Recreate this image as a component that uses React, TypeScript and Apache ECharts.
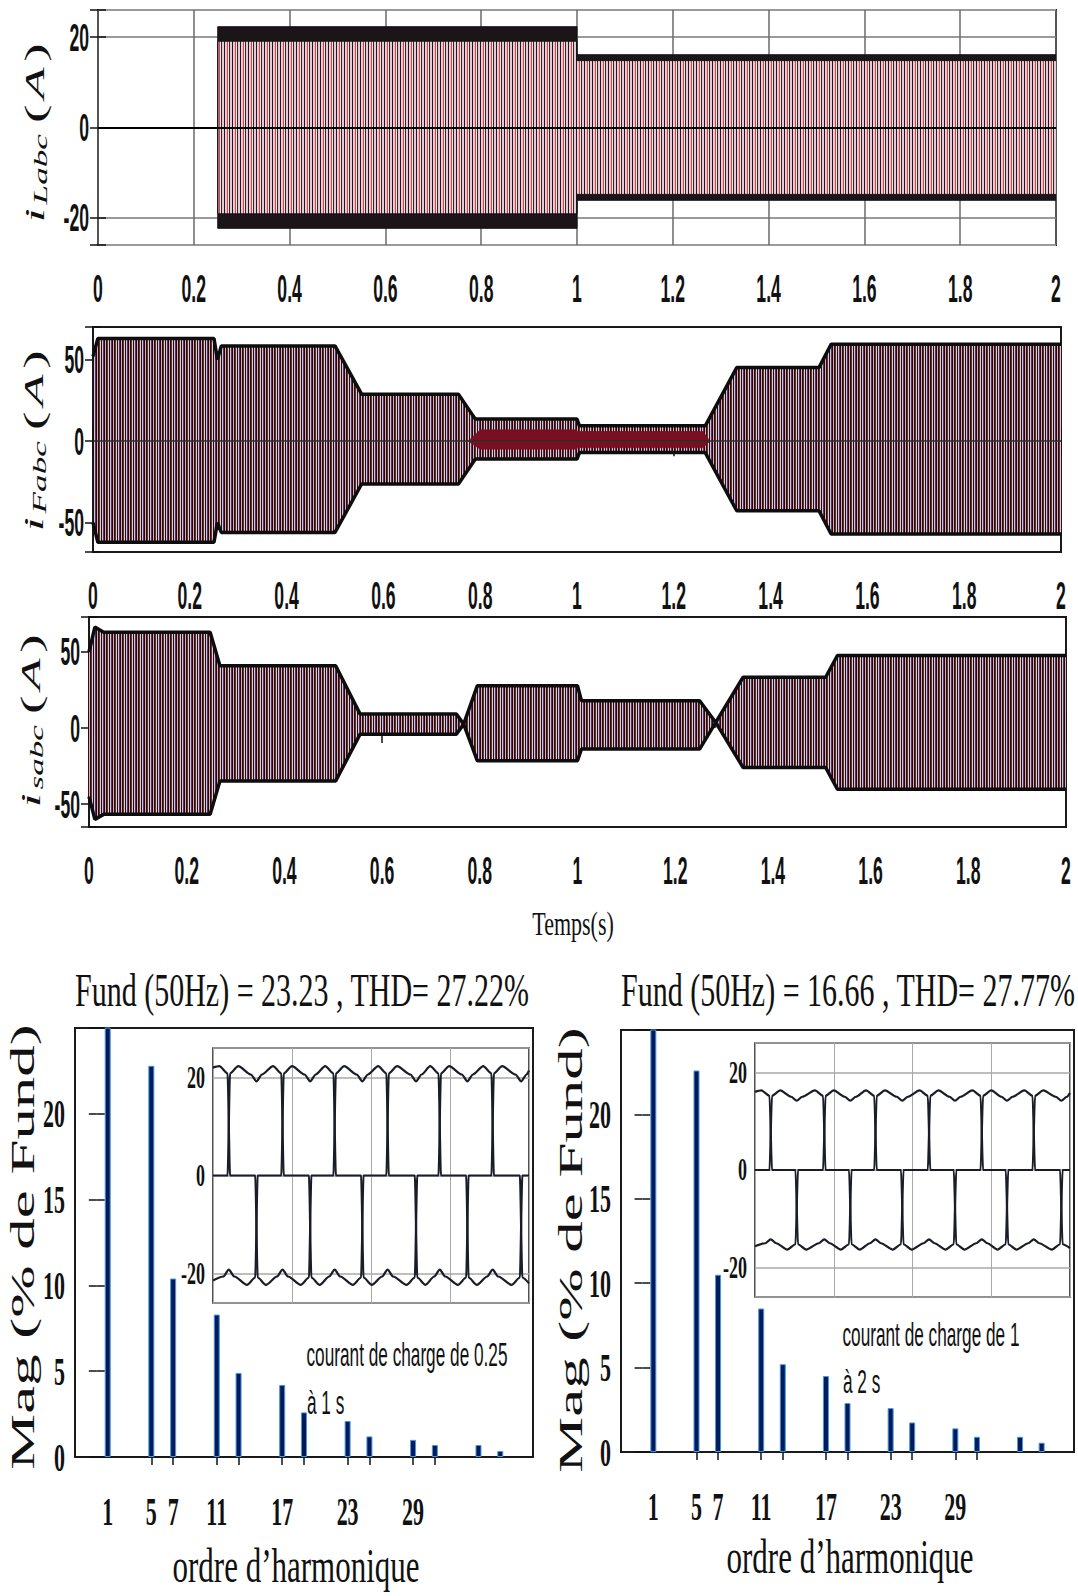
import React, { useEffect, useRef } from 'react';
import * as echarts from 'echarts';

// ---------- Panel 1 : load current i_Labc (envelope) ----------
const iLTime = [0, 0.25, 0.25, 1.0, 1.0, 2.0];
const iLPeak = [0, 0, 22.3, 22.3, 16.1, 16.1];
const iLInner = [0, 0, 19.1, 19.1, 14.8, 14.8];

// ---------- Panel 2 : filter current i_Fabc ----------
const iFTime = [0, 0.01, 0.25, 0.257, 0.265, 0.5, 0.555, 0.755, 0.79, 1.0, 1.005, 1.265, 1.33, 1.5, 1.525, 2.0];
const iFUpper = [52, 62.9, 62.9, 50, 58.4, 58.4, 28.8, 28.8, 13.5, 13.5, 9.4, 9.4, 45.1, 45.1, 59.4, 59.4];
const iFLower = [-50, -62, -62, -50, -56, -56, -26.3, -26.3, -11, -11, -7, -7, -42.7, -42.7, -57, -57];
const iFCoreTime = [0.775, 0.8, 1.0, 1.0, 1.26, 1.275];
const iFCoreUpper = [0, 7, 7, 6, 6, 0];
const iFCoreLower = [0, -5, -5, -4, -4, 0];

// ---------- Panel 3 : source current i_sabc ----------
const isTime = [0, 0.012, 0.03, 0.248, 0.268, 0.505, 0.555, 0.752, 0.767, 0.795, 1.0, 1.008, 1.25, 1.283, 1.339, 1.508, 1.532, 2.0];
const isUpper = [50, 66.4, 63, 63, 41, 41, 9.2, 9.2, 2.6, 27.9, 27.9, 18, 18, 3.7, 33.4, 33.4, 47.7, 47.7];
const isLower = [-45, -60, -56.7, -56.7, -34.7, -34.7, -4, -4, 2.6, -21.5, -21.5, -13.8, -13.8, 3.7, -25.9, -25.9, -40.2, -40.2];

const panelRanges = [[-26, 26], [-68, 70], [-65, 73]];
const panelYTickLabels = [[-20, 0, 20], [-50, 0, 50], [-50, 0, 50]];
const timeTickLabels = [0, 0.2, 0.4, 0.6, 0.8, 1, 1.2, 1.4, 1.6, 1.8, 2];

// ---------- Harmonic spectra ----------
const harmonicOrders = [1, 5, 7, 11, 13, 17, 19, 23, 25, 29, 31, 35, 37];
const magLeft = [100, 22.8, 10.4, 8.3, 4.9, 4.2, 2.6, 2.1, 1.2, 1.0, 0.7, 0.7, 0.35];
const magRight = [100, 22.6, 10.5, 8.5, 5.2, 4.5, 2.9, 2.6, 1.75, 1.4, 0.9, 0.9, 0.55];
const harmonicLabels = [1, 5, 7, 11, 17, 23, 29];
const harmonicTicks = [5, 7, 11, 13, 17, 19, 23, 25, 29, 31];
const magTickLabels = [0, 5, 10, 15, 20];
const insetTickLabels = [-20, 0, 20];

// ---------- Insets : three load-current phases over 40 ms ----------
const insetLA = [[0,0],[1.85,0],[2.15,20.8],[3.2,22.3],[4.8,20.6],[5.5,19.2],[6.2,20.6],[7.6,22.3],[8.65,20.8],[8.95,0],
  [12.15,0],[12.45,-20.8],[13.5,-22.3],[14.7,-20.6],[15.4,-19.2],[16.1,-20.6],[17.7,-22.3],[18.75,-20.8],[19.05,0],
  [21.95,0],[22.25,20.8],[23.3,22.3],[25.0,20.6],[25.7,19.2],[26.4,20.6],[27.5,22.3],[28.55,20.8],[28.85,0],
  [32.05,0],[32.35,-20.8],[33.4,-22.3],[34.7,-20.6],[35.4,-19.2],[36.1,-20.6],[37.8,-22.3],[38.85,-20.8],[39.15,0],[40,0]];
const insetLB = [[0,-21.4],[1.3,-20.6],[2.0,-19.2],[2.7,-20.6],[4.3,-22.3],[5.35,-20.8],[5.65,0],
  [8.65,0],[8.95,20.8],[10.0,22.3],[11.6,20.6],[12.3,19.2],[13.0,20.6],[14.2,22.3],[15.25,20.8],[15.55,0],
  [18.75,0],[19.05,-20.8],[20.1,-22.3],[21.4,-20.6],[22.1,-19.2],[22.8,-20.6],[24.5,-22.3],[25.55,-20.8],[25.85,0],
  [28.55,0],[28.85,20.8],[29.9,22.3],[31.5,20.6],[32.2,19.2],[32.9,20.6],[34.2,22.3],[35.25,20.8],[35.55,0],
  [38.85,0],[39.15,-20.8],[40,-22.0]];
const insetLC = [[0,22.0],[0.8,22.3],[1.85,20.8],[2.15,0],
  [5.35,0],[5.65,-20.8],[6.7,-22.3],[8.1,-20.6],[8.8,-19.2],[9.5,-20.6],[11.1,-22.3],[12.15,-20.8],[12.45,0],
  [15.25,0],[15.55,20.8],[16.6,22.3],[18.2,20.6],[18.9,19.2],[19.6,20.6],[20.9,22.3],[21.95,20.8],[22.25,0],
  [25.55,0],[25.85,-20.8],[26.9,-22.3],[28.0,-20.6],[28.7,-19.2],[29.4,-20.6],[31.0,-22.3],[32.05,-20.8],[32.35,0],
  [35.25,0],[35.55,20.8],[36.6,22.3],[38.3,20.6],[39.0,19.2],[39.7,20.6],[40,21.4]];
const insetRA = [[0,0],[1.85,0],[2.15,15.2],[3.2,16.3],[4.6,15.0],[5.3,14.2],[6.0,15.0],[7.6,16.3],[8.65,15.2],[8.95,0],
  [11.95,0],[12.25,-15.2],[13.3,-16.3],[14.6,-15.0],[15.3,-14.2],[16.0,-15.0],[17.5,-16.3],[18.55,-15.2],[18.85,0],
  [21.95,0],[22.25,15.2],[23.3,16.3],[24.7,15.0],[25.4,14.2],[26.1,15.0],[27.6,16.3],[28.65,15.2],[28.95,0],
  [31.85,0],[32.15,-15.2],[33.2,-16.3],[34.7,-15.0],[35.4,-14.2],[36.1,-15.0],[37.7,-16.3],[38.75,-15.2],[39.05,0],[40,0]];
const insetRB = [[0,-15.6],[1.3,-15.0],[2.0,-14.2],[2.7,-15.0],[4.1,-16.3],[5.15,-15.2],[5.45,0],
  [8.65,0],[8.95,15.2],[10.0,16.3],[11.4,15.0],[12.1,14.2],[12.8,15.0],[14.1,16.3],[15.15,15.2],[15.45,0],
  [18.55,0],[18.85,-15.2],[19.9,-16.3],[21.4,-15.0],[22.1,-14.2],[22.8,-15.0],[24.2,-16.3],[25.25,-15.2],[25.55,0],
  [28.65,0],[28.95,15.2],[30.0,16.3],[31.3,15.0],[32.0,14.2],[32.7,15.0],[34.2,16.3],[35.25,15.2],[35.55,0],
  [38.75,0],[39.05,-15.2],[40,-16.0]];
const insetRC = [[0,16.0],[0.8,16.3],[1.85,15.2],[2.15,0],
  [5.15,0],[5.45,-15.2],[6.5,-16.3],[8.1,-15.0],[8.8,-14.2],[9.5,-15.0],[10.9,-16.3],[11.95,-15.2],[12.25,0],
  [15.15,0],[15.45,15.2],[16.5,16.3],[18.0,15.0],[18.7,14.2],[19.4,15.0],[20.9,16.3],[21.95,15.2],[22.25,0],
  [25.25,0],[25.55,-15.2],[26.6,-16.3],[28.1,-15.0],[28.8,-14.2],[29.5,-15.0],[30.8,-16.3],[31.85,-15.2],[32.15,0],
  [35.25,0],[35.55,15.2],[36.6,16.3],[38.2,15.0],[38.9,14.2],[39.6,15.0],[40,15.8]];

const SANS = '"Liberation Sans", Arial, sans-serif';
const SERIF = '"Liberation Serif", "Times New Roman", serif';

const zip = (xs: number[], ys: number[]) => xs.map((x, i) => [x, ys[i]]);

function stripePattern(cols: string[]) {
  const c = document.createElement('canvas');
  c.width = cols.length;
  c.height = 2;
  const ctx = c.getContext('2d')!;
  cols.forEach((col, i) => {
    ctx.fillStyle = col;
    ctx.fillRect(i, 0, 1, 2);
  });
  return { image: c, repeat: 'repeat', imageWidth: cols.length, imageHeight: 2 } as any;
}

const txt = (x: number, y: number, text: string, o: any = {}) => ({
  type: 'text', x, y, z: 10,
  rotation: o.rotation || 0, scaleX: o.scaleX || 1, scaleY: o.scaleY || 1,
  style: {
    text, fill: '#111', align: o.align || 'center', verticalAlign: 'middle',
    fontFamily: o.fontFamily || SERIF, fontSize: o.fontSize || 22, fontWeight: o.fontWeight || 'normal',
  },
});

function buildOption() {
  const patLight = stripePattern(['#1a1a1a', '#f6ccd3', '#f0b9c3', '#c94a5f', '#f8dde1', '#2a2a2a', '#f3c3cb', '#d6d2e4']);
  const patDark = stripePattern(['#111111', '#e4a9b4', '#121212', '#8c1d2f', '#d8d0d2', '#161616', '#f0b8c2', '#3a3f6e']);

  const grids = [
    { left: 98, top: 10, width: 958, height: 235 },
    { left: 93, top: 327, width: 968, height: 225 },
    { left: 89, top: 617, width: 977, height: 210 },
    { left: 75, top: 1028, width: 458, height: 429 },
    { left: 621, top: 1030, width: 453, height: 422 },
    { left: 213, top: 1048, width: 316, height: 255, backgroundColor: '#fff', borderWidth: 1.5 },
    { left: 755, top: 1043, width: 315, height: 254, backgroundColor: '#fff', borderWidth: 1.5 },
  ].map((g: any) => ({ show: true, borderColor: '#1a1a1a', borderWidth: 2, backgroundColor: 'transparent', containLabel: false, ...g }));

  const xAxis: any[] = [];
  const yAxis: any[] = [];
  const tickStyle = { color: '#111', width: 1.5 };

  for (let i = 0; i < 3; i++) {
    const [mn, mx] = panelRanges[i];
    xAxis.push({
      type: 'value', gridIndex: i, min: 0, max: 2, interval: 0.2,
      axisLine: { show: false },
      axisTick: { show: i > 0, inside: true, length: 15, lineStyle: tickStyle },
      axisLabel: { show: false },
      splitLine: { show: i === 0, lineStyle: { color: '#6a6a6a', width: 1.5 } },
    });
    xAxis.push({
      type: 'value', gridIndex: i, position: 'top', min: 0, max: 2, interval: 0.2,
      axisLine: { show: false },
      axisTick: { show: i > 0, inside: true, length: 15, lineStyle: tickStyle },
      axisLabel: { show: false }, splitLine: { show: false },
    });
    yAxis.push({
      type: 'value', gridIndex: i, min: mn, max: mx, splitNumber: 3,
      axisLine: { show: false },
      axisTick: { inside: true, length: 8, lineStyle: tickStyle },
      axisLabel: { show: false },
      splitLine: { show: i === 0, lineStyle: { color: '#9a9a9a', width: 2 } },
    });
    yAxis.push({
      type: 'value', gridIndex: i, position: 'right', min: mn, max: mx, splitNumber: 3,
      axisLine: { show: false },
      axisTick: { inside: true, length: 8, lineStyle: tickStyle },
      axisLabel: { show: false }, splitLine: { show: false },
    });
  }

  for (let j = 0; j < 2; j++) {
    const g = 3 + j;
    xAxis.push({
      type: 'value', gridIndex: g, min: -2, max: 40,
      axisLine: { show: false }, axisTick: { show: false }, axisLabel: { show: false },
      splitLine: { show: false },
    });
    xAxis.push({
      type: 'value', gridIndex: g, position: 'top', min: -2, max: 40,
      axisLine: { show: false },
      axisTick: { customValues: harmonicTicks, inside: true, length: 8, lineStyle: tickStyle },
      axisLabel: { show: false }, splitLine: { show: false },
    });
    yAxis.push({
      type: 'value', gridIndex: g, min: 0, max: 25, interval: 5,
      axisLine: { show: false },
      axisTick: { inside: true, length: 8, lineStyle: tickStyle },
      axisLabel: { show: false }, splitLine: { show: false },
    });
    yAxis.push({
      type: 'value', gridIndex: g, position: 'right', min: 0, max: 25, interval: 5,
      axisLine: { show: false },
      axisTick: { inside: true, length: 8, lineStyle: tickStyle },
      axisLabel: { show: false }, splitLine: { show: false },
    });
  }

  for (let k = 0; k < 2; k++) {
    const g = 5 + k;
    xAxis.push({
      type: 'value', gridIndex: g, min: 0, max: 40, interval: 10,
      axisLine: { show: false }, axisTick: { show: false }, axisLabel: { show: false },
      splitLine: { show: true, lineStyle: { color: '#a8a8a8', width: 1 } },
    });
    yAxis.push({
      type: 'value', gridIndex: g, min: -26, max: 26, splitNumber: 3,
      axisLine: { show: false }, axisTick: { show: false }, axisLabel: { show: false },
      splitLine: { show: true, lineStyle: { color: '#a8a8a8', width: 1.5 } },
    });
  }

  const zeroLine = (color: string, width: number) => ({
    silent: true, symbol: ['none', 'none'], label: { show: false },
    lineStyle: { color, width, type: 'solid' }, data: [{ yAxis: 0 }],
  });

  const band = (ax: number, data: any[], fill: any, lineColor: string, lw: number, extra: any = {}) => ({
    type: 'line', xAxisIndex: ax, yAxisIndex: ax, data, symbol: 'none', showSymbol: false, silent: true,
    lineStyle: { color: lineColor, width: lw }, areaStyle: { color: fill, opacity: 1 }, ...extra,
  });

  const series: any[] = [];
  // Panel 1 : dark ripple crest (peak) under the striped body (inner)
  series.push(band(0, zip(iLTime, iLPeak), '#1b1419', '#111', 1));
  series.push(band(0, zip(iLTime, iLPeak.map((v) => -v)), '#1b1419', '#111', 1));
  series.push(band(0, zip(iLTime, iLInner), patLight, '#141414', 1));
  series.push(band(0, zip(iLTime, iLInner.map((v) => -v)), patLight, '#141414', 1, { markLine: zeroLine('#000', 2) }));
  // Panel 2
  series.push(band(2, zip(iFTime, iFUpper), patDark, '#0d0d0d', 3.5));
  series.push(band(2, zip(iFTime, iFLower), patDark, '#0d0d0d', 3.5));
  series.push(band(2, zip(iFCoreTime, iFCoreUpper), '#7a0f22', '#7a0f22', 0.5));
  series.push(band(2, zip(iFCoreTime, iFCoreLower), '#7a0f22', '#7a0f22', 0.5, { markLine: zeroLine('#2a2a2a', 1.5) }));
  // Panel 3
  series.push(band(4, zip(isTime, isUpper), patDark, '#0d0d0d', 3.5));
  series.push(band(4, zip(isTime, isLower), patDark, '#0d0d0d', 3.5));

  // Spectra
  const barStyle = { color: '#001a5c', borderColor: '#4a98dc', borderWidth: 1 };
  series.push({ type: 'bar', xAxisIndex: 6, yAxisIndex: 6, data: zip(harmonicOrders, magLeft), barWidth: 6, itemStyle: barStyle, clip: true, silent: true });
  series.push({ type: 'bar', xAxisIndex: 8, yAxisIndex: 8, data: zip(harmonicOrders, magRight), barWidth: 6, itemStyle: barStyle, clip: true, silent: true });

  // Insets
  const waveLine = (ax: number, data: number[][]) => ({
    type: 'line', xAxisIndex: ax, yAxisIndex: ax, data, symbol: 'none', showSymbol: false, silent: true,
    smooth: 0.25, smoothMonotone: 'x',
    lineStyle: { color: '#1a1d28', width: 2.2 }, z: 5,
  });
  [insetLA, insetLB, insetLC].forEach((d) => series.push(waveLine(10, d)));
  [insetRA, insetRB, insetRC].forEach((d) => series.push(waveLine(11, d)));

  // Static texts
  const mathName = (x: number, y: number, sub: string) => ({
    type: 'text', x, y, rotation: Math.PI / 2, scaleX: 1.85, z: 10,
    style: {
      text: `{i|i}{s|${sub}}{p|(}{a|A}{p|)}`,
      align: 'center', verticalAlign: 'middle', fill: '#111',
      rich: {
        i: { fontFamily: SERIF, fontStyle: 'italic', fontSize: 28, fill: '#111', padding: [0, 1, 0, 0] },
        s: { fontFamily: SERIF, fontStyle: 'italic', fontSize: 19, fill: '#111', padding: [12, 5, 0, 1] },
        p: { fontFamily: SERIF, fontSize: 30, fill: '#111', padding: [0, 1, 0, 1] },
        a: { fontFamily: SERIF, fontStyle: 'italic', fontSize: 28, fill: '#111', padding: [0, 2, 0, 2] },
      },
    },
  });

  const graphic: any[] = [
    mathName(35, 132, 'Labc'),
    mathName(34, 440, 'Fabc'),
    mathName(31, 720, 'sabc'),
    txt(573, 923, 'Temps(s)', { fontSize: 22, scaleY: 1.55 }),
    txt(302, 990, 'Fund (50Hz) = 23.23 , THD= 27.22%', { fontSize: 30, scaleY: 1.55 }),
    txt(848, 990, 'Fund (50Hz) = 16.66 , THD= 27.77%', { fontSize: 30, scaleY: 1.55 }),
    txt(23, 1247, 'Mag (% de Fund)', { fontSize: 34, rotation: Math.PI / 2, scaleX: 1.85 }),
    txt(571, 1250, 'Mag (% de Fund)', { fontSize: 34, rotation: Math.PI / 2, scaleX: 1.85 }),
    txt(296, 1566, 'ordre d\u2019harmonique', { fontSize: 31, scaleY: 1.55 }),
    txt(850, 1557, 'ordre d\u2019harmonique', { fontSize: 31, scaleY: 1.55 }),
    txt(407, 1355, 'courant de charge de 0.25', { fontFamily: SANS, fontSize: 21, scaleX: 0.82, scaleY: 1.6 }),
    txt(307, 1403, '\u00e0 1 s', { fontFamily: SANS, fontSize: 21, scaleX: 0.82, scaleY: 1.6, align: 'left' }),
    txt(931, 1335, 'courant de charge de 1', { fontFamily: SANS, fontSize: 21, scaleX: 0.82, scaleY: 1.6 }),
    txt(843, 1382, '\u00e0 2 s', { fontFamily: SANS, fontSize: 21, scaleX: 0.82, scaleY: 1.6, align: 'left' }),
  ];

  return { animation: false, backgroundColor: '#fff', grid: grids, xAxis, yAxis, series, graphic };
}

// Tick labels placed with the axes' own scales (convertToPixel), drawn as stretched text like the original.
function buildTickLabels(chart: any) {
  const out: any[] = [];
  const px = (axis: string, idx: number, v: number) => chart.convertToPixel({ [axis]: idx }, v) as number;
  const panelFont = { fontFamily: SANS, fontWeight: 'bold', fontSize: 20, scaleX: 0.88, scaleY: 1.9 };
  for (let i = 0; i < 3; i++) {
    const [mn] = panelRanges[i];
    const bottom = px('yAxisIndex', 2 * i, mn);
    const left = px('xAxisIndex', 2 * i, 0);
    timeTickLabels.forEach((v) => out.push(txt(px('xAxisIndex', 2 * i, v), bottom + 44, String(v), panelFont)));
    panelYTickLabels[i].forEach((v) =>
      out.push(txt(left - 9, px('yAxisIndex', 2 * i, v), String(v), { ...panelFont, align: 'right' })));
  }
  const barFont = { fontFamily: SERIF, fontWeight: 'bold', fontSize: 22, scaleY: 1.8 };
  for (let j = 0; j < 2; j++) {
    const ax = 6 + 2 * j;
    const bottom = px('yAxisIndex', ax, 0);
    const left = px('xAxisIndex', ax, -2);
    harmonicLabels.forEach((v) => out.push(txt(px('xAxisIndex', ax, v), bottom + 54, String(v), barFont)));
    magTickLabels.forEach((v) =>
      out.push(txt(left - 10, px('yAxisIndex', ax, v), String(v), { ...barFont, align: 'right' })));
  }
  const insetFont = { fontFamily: SERIF, fontWeight: 'bold', fontSize: 18, scaleY: 1.75 };
  for (let k = 0; k < 2; k++) {
    const ax = 10 + k;
    const left = px('xAxisIndex', ax, 0);
    insetTickLabels.forEach((v) =>
      out.push(txt(left - 8, px('yAxisIndex', ax, v), String(v), { ...insetFont, align: 'right' })));
  }
  return out;
}

export default function App() {
  const ref = useRef<HTMLDivElement>(null);
  useEffect(() => {
    if (!ref.current) return;
    const chart = echarts.init(ref.current, undefined, { renderer: 'svg' });
    const opt = buildOption();
    chart.setOption(opt as any);
    const labels = buildTickLabels(chart);
    chart.setOption({ graphic: [...opt.graphic, ...labels] } as any);
    return () => chart.dispose();
  }, []);
  return (
    <div
      ref={ref}
      style={{ position: 'absolute', left: 0, top: 0, width: 1078, height: 1596, background: '#fff' }}
    />
  );
}
